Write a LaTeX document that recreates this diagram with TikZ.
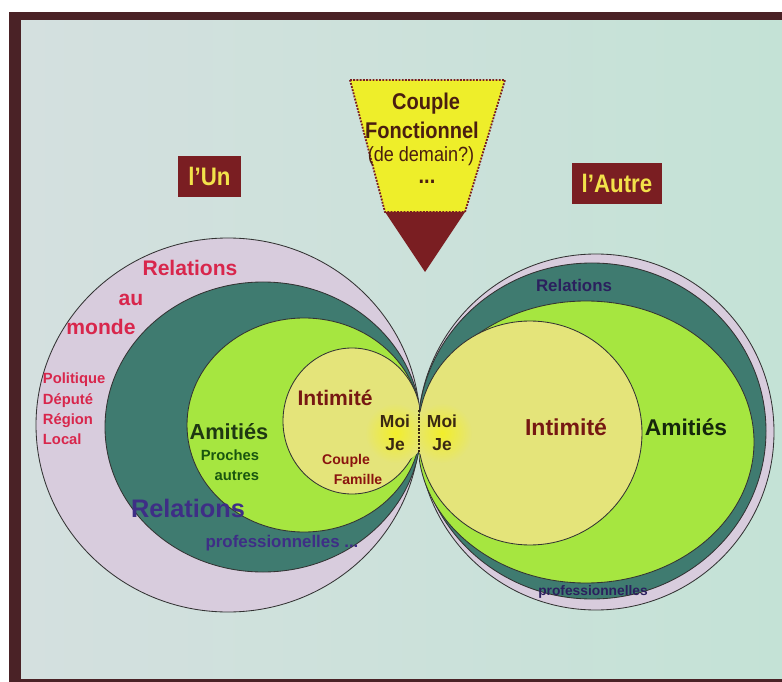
\documentclass[tikz,border=0pt]{standalone}
\usepackage{fontspec}
\setmainfont{Liberation Sans}
\setsansfont{Liberation Sans}
\newfontfamily\narrowfont{Liberation Sans}[FakeStretch=0.88]
\usepackage{tikz}
\usetikzlibrary{positioning,shapes.geometric}

\definecolor{frameRed}{HTML}{4A2226}
\definecolor{slideA}{HTML}{D4E0DF}
\definecolor{slideB}{HTML}{C4E2D6}
\definecolor{lilac}{HTML}{D8CCDD}
\definecolor{ringTeal}{HTML}{3F7B70}
\definecolor{ringGreen}{HTML}{A6E640}
\definecolor{ringYellow}{HTML}{E4E47A}
\definecolor{moiYellow}{HTML}{F2EE2A}
\definecolor{ringLine}{HTML}{333333}
\definecolor{boxRed}{HTML}{7A1E22}
\definecolor{labYellow}{HTML}{F2E24A}
\definecolor{worldRed}{HTML}{D8264C}
\definecolor{proPurple}{HTML}{3E2E86}
\definecolor{intRed}{HTML}{761812}
\definecolor{amiGreen}{HTML}{1E3812}
\definecolor{moiBrown}{HTML}{3A2812}
\definecolor{funYellow}{HTML}{EEEE2A}
\definecolor{funBrown}{HTML}{4A1E10}

\begin{document}
\begin{tikzpicture}[
    x=0.025cm,
    y=-0.025cm,
    font=\bfseries\sffamily,
    ring/.style={
		draw=ringLine,
		line width=0.6pt
	},
	title/.style={
		rectangle,
		fill=boxRed,
		text=labYellow,
		font=\bfseries\narrowfont\fontsize{18}{20}\selectfont,
		minimum height=1.025cm,
		inner xsep=0.25cm
	},
	world/.style={
		text=worldRed,
		font=\bfseries\sffamily\fontsize{15}{18}\selectfont
	},
	small/.style={
		font=\bfseries\sffamily\fontsize{10.5}{14.4}\selectfont
	},
	moi/.style={
		text=moiBrown,
		align=center,
		font=\bfseries\sffamily\fontsize{12.4}{16.4}\selectfont
	},
	funnel/.style={
		text=funBrown,
		font=\bfseries\narrowfont\fontsize{16.2}{18}\selectfont
	}
  ]

\useasboundingbox (0,0) rectangle (782,682);

% // The slide
\fill [white] (0,0) rectangle (782,682);
\fill [frameRed] (9,12) rectangle (782,682);
\shade [left color=slideA, right color=slideB] (21,21) rectangle (782,678);

% // l'Un (left circles)
\begin{scope}
\clip (0,0) rectangle (419,682);
\filldraw [ring, fill=lilac] (228,425) ellipse [x radius=192, y radius=187];
\filldraw [ring, fill=ringTeal] (263,427) ellipse [x radius=158, y radius=145];
\filldraw [ring, fill=ringGreen] (304,425) ellipse [x radius=117, y radius=107];
\filldraw [ring, fill=ringYellow] (352,421) ellipse [x radius=69, y radius=73];
\shade [inner color=moiYellow, outer color=ringYellow] (395,433) circle (30);
\end{scope}

% // l'Autre (right circles)
\begin{scope}
\clip (419,0) rectangle (782,682);
\filldraw [ring, fill=lilac] (596,432) ellipse [x radius=178, y radius=178];
\filldraw [ring, fill=ringTeal] (592,431) ellipse [x radius=174, y radius=168];
\filldraw [ring, fill=ringGreen] (586,442) ellipse [x radius=168, y radius=141];
\filldraw [ring, fill=ringYellow] (530,433) circle (112);
\shade [inner color=moiYellow, outer color=ringYellow] (442,433) circle (30);
\end{scope}

% // Moi | Moi
\coordinate (neckTop) at (419,410);
\coordinate (neckBot) at (419,453);
\draw [densely dotted, line width=1.6pt, moiBrown] (neckTop) -- (neckBot);

% // The funnel
\coordinate (fTL) at (350,80);
\coordinate (fTR) at (505,80);
\coordinate (fBR) at (465,212);
\coordinate (fBL) at (385,212);
\coordinate (fTip) at (425,272);
\fill [funYellow] (fTL) -- (fTR) -- (fBR) -- (fBL) -- cycle;
\fill [boxRed] (fBL) -- (fBR) -- (fTip) -- cycle;
\draw [densely dotted, line width=1.3pt, boxRed] (fTL) -- (fTR) -- (fBR) -- (fBL) -- cycle;

\node [funnel] (fCouple) at (426,104) {Couple};
\node [funnel] (fFonct) at (422,130) {Fonctionnel};
\node [funnel, font=\narrowfont\fontsize{14.6}{16}\selectfont] (fDemain) at (421,156) {(de demain?)};
\node [funnel] (fDots) at (427,182) {...};

% // Titles
\node [title] (un) at (209.5,176.5) {l’Un};
\node [title] (autre) at (617,183.5) {l’Autre};

% // Left labels
\node [world] (relW) at (190,268) {Relations};
\node [world] (auW) at (131,300) {au};
\node [world] (mondeW) at (101,327) {monde};
\node [small, text=worldRed, align=left, anchor=west] (polit) at (38,409)
 {Politique\\Député\\Région\\Local};

\node [text=amiGreen, font=\bfseries\sffamily\fontsize{15.5}{18}\selectfont] (amiL) at (229,432) {Amitiés};
\node [small, text=amiGreen!85!green, align=right, anchor=east] (procL) at (264,465) {Proches\\autres};

\node [text=intRed, font=\bfseries\sffamily\fontsize{15}{18}\selectfont] (intL) at (335,398) {Intimité};
\node [moi] (moiL) at (395,433) {Moi\\Je};
\node [text=intRed!85!red, font=\bfseries\sffamily\fontsize{10}{12}\selectfont] (cplL) at (346,461) {Couple};
\node [text=intRed!85!red, font=\bfseries\sffamily\fontsize{10}{12}\selectfont] (famL) at (358,479) {Famille};

\node [text=proPurple, font=\bfseries\sffamily\fontsize{18}{20}\selectfont] (relP) at (188,508) {Relations};
\node [text=proPurple, font=\bfseries\sffamily\fontsize{12}{14}\selectfont] (proL) at (282,543) {professionnelles ...};

% // Right labels
\node [text=proPurple!70!black, font=\bfseries\sffamily\fontsize{12}{14}\selectfont] (relR) at (574,285) {Relations};
\node [text=intRed, font=\bfseries\sffamily\fontsize{16.4}{19}\selectfont] (intR) at (566,427) {Intimité};
\node [text=amiGreen!70!black, font=\bfseries\sffamily\fontsize{16.2}{19}\selectfont] (amiR) at (686,427) {Amitiés};
\node [moi] (moiR) at (442,433) {Moi\\Je};
\node [text=proPurple!70!black, font=\bfseries\sffamily\fontsize{9.8}{12}\selectfont] (proR) at (593,592) {professionnelles};

\end{tikzpicture}
\end{document}
